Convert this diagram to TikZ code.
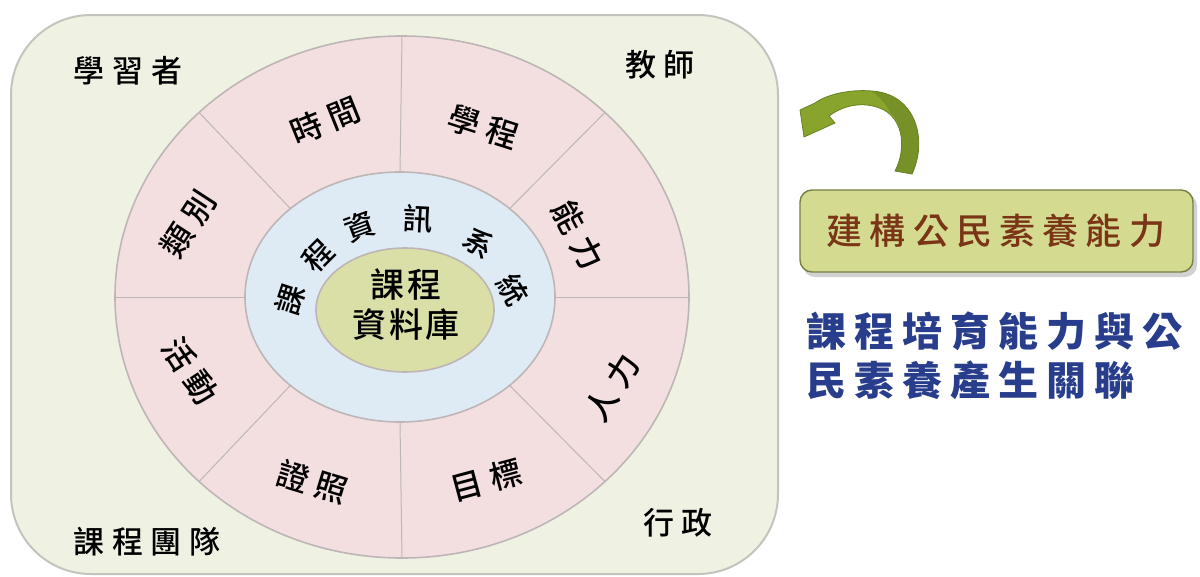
\documentclass[tikz,border=0pt]{standalone}
\usepackage{fontspec}
\newfontfamily\cjk{Noto Sans CJK TC}
\newfontfamily\cjkm{Noto Sans CJK TC Medium}
\newcommand{\kk}{\hspace{0.25em}}
\newcommand{\kc}{\hspace{0.08em}}
\newcommand{\kb}{\hspace{0.2em}}
\definecolor{bgpanel}{RGB}{239,242,226}
\definecolor{panelline}{RGB}{196,196,190}
\definecolor{pinkring}{RGB}{243,223,223}
\definecolor{bluering}{RGB}{222,235,245}
\definecolor{greencore}{RGB}{217,223,166}
\definecolor{ringline}{RGB}{190,182,182}
\definecolor{boxfill}{RGB}{212,219,144}
\definecolor{boxline}{RGB}{118,128,66}
\definecolor{boxtext}{RGB}{122,52,22}
\definecolor{bluetext}{RGB}{40,62,140}
\definecolor{arrowgreen}{RGB}{136,164,44}
\definecolor{arrowdark}{RGB}{104,130,36}
\begin{document}
\begin{tikzpicture}[x=1pt,y=-1pt,
  lbl/.style={font=\cjkm\fontsize{32}{36}\selectfont, text=black, inner sep=0pt},
  corner/.style={font=\cjkm\fontsize{31}{36}\selectfont, text=black, inner sep=0pt},
  ringch/.style={font=\cjkm\fontsize{30}{34}\selectfont, text=black, inner sep=0pt},
  ringedge/.style={draw=ringline, line width=1.6pt},
  sepline/.style={draw=ringline, line width=1pt}]
\useasboundingbox (0,0) rectangle (1200,576);
\fill[white] (0,0) rectangle (1200,576);
% panel
\draw[fill=bgpanel, draw=panelline, line width=2pt, rounded corners=80pt] (11,15) rectangle (778,574);
% pink ring
\draw[ringedge, fill=pinkring] (402,297) ellipse [x radius=287, y radius=261];
\foreach \t in {0,45,...,315}
  \draw[sepline] ({400+155*cos(\t)},{297-125*sin(\t)}) -- ({402+287*cos(\t)},{297-261*sin(\t)});
% blue ring
\draw[ringedge, fill=bluering] (400,297) ellipse [x radius=155, y radius=125];
% core
\draw[ringedge, fill=greencore] (405,310) ellipse [x radius=89, y radius=62];
\node[font=\cjkm\fontsize{34}{40}\selectfont, align=center, inner sep=0pt] (core) at (406,305) {課\kc 程\\資\kc 料\kc 庫};
% blue ring characters
\node[ringch, rotate=72] (c1) at (290,300) {課};
\node[ringch, rotate=45] (c2) at (318,256) {程};
\node[ringch, rotate=20] (c3) at (360,227) {資};
\node[ringch, rotate=-3] (c4) at (418,219) {訊};
\node[ringch, rotate=-35] (c5) at (479,243) {系};
\node[ringch, rotate=-60] (c6) at (513,290) {統};
% pink ring labels
\node[lbl, rotate=22] (s1) at (325,121) {時\kk 間};
\node[lbl, rotate=-18] (s2) at (483,127) {學\kk 程};
\node[lbl, rotate=-62] (s3) at (578,235) {能\kk 力};
\node[lbl, rotate=58] (s4) at (612,388) {人\kk 力};
\node[lbl, rotate=15] (s5) at (486,480) {目\kk 標};
\node[lbl, rotate=-17] (s6) at (312,482) {證\kk 照};
\node[lbl, rotate=-57] (s7) at (190,371) {活\kk 動};
\node[lbl, rotate=57] (s8) at (188,224) {類\kk 別};
% corner labels
\node[corner] (k1) at (128,71) {學\kk 習\kk 者};
\node[corner] (k2) at (660,65) {教\kk 師};
\node[corner] (k3) at (147,542) {課\kk 程\kk 團\kk 隊};
\node[corner] (k4) at (678,523) {行\kk 政};
% right box
\fill[black, opacity=0.18, rounded corners=12pt] (803,194) rectangle (1197,277);
\draw[fill=boxfill, draw=boxline, line width=1.4pt, rounded corners=12pt] (800,190) rectangle (1193,272);
\node[font=\cjkm\fontsize{36}{40}\selectfont, text=boxtext, inner sep=0pt] (box) at (996,231) {建\kb 構\kb 公\kb 民\kb 素\kb 養\kb 能\kb 力};
% curved arrow
\fill[arrowgreen, draw=arrowdark, line width=0.8pt]
  (912,174) .. controls (928,140) and (916,94) .. (872,91)
  .. controls (848,89) and (826,95) .. (815,103)
  -- (800,110) -- (804,137) -- (835,123) -- (829,116)
  .. controls (845,104) and (866,101) .. (884,110)
  .. controls (904,121) and (906,150) .. (895,171) -- cycle;
\fill[arrowdark, opacity=0.55]
  (912,174) .. controls (928,140) and (916,94) .. (872,91)
  .. controls (880,97) and (886,104) .. (890,112)
  .. controls (904,125) and (906,150) .. (895,171) -- cycle;
% blue text
\node[font=\cjk\fontsize{40}{50}\selectfont\bfseries, text=bluetext, inner sep=0pt, anchor=west] (t1) at (806,331) {課\kb 程\kb 培\kb 育\kb 能\kb 力\kb 與\kb 公};
\node[font=\cjk\fontsize{40}{50}\selectfont\bfseries, text=bluetext, inner sep=0pt, anchor=west] (t2) at (806,380) {民\kb 素\kb 養\kb 產\kb 生\kb 關\kb 聯};
\end{tikzpicture}
\end{document}
